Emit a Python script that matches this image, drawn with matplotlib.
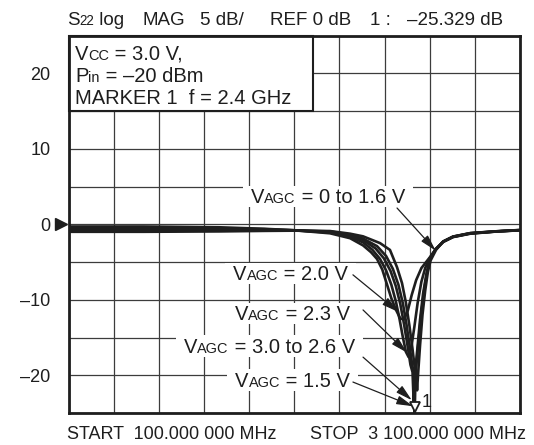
import matplotlib
matplotlib.use('Agg')
import matplotlib.pyplot as plt
from matplotlib.patches import Rectangle
from matplotlib.transforms import IdentityTransform, blended_transform_factory

plt.rcParams['font.family'] = ['Liberation Sans', 'DejaVu Sans']

INK = '#1e1e1e'
FS = 13          # header / axis text size (pt)
FS_NOTE = 14.5   # condition box and callout size (pt)
SMALL = 0.72     # size ratio for the small-cap style subscripts

# ── Analyzer settings ─────────────────────────────────────────────────────────
start_mhz = 100
stop_mhz = 3100
ref_db = 0
db_per_div = 5
marker_mhz = 2400
marker_db = -25.329
vcc_v = 3.0
pin_dbm = -20

y_label_values = [20, 10, 0, -10, -20]

# ── S22 traces (frequency in MHz, magnitude in dB) ───────────────────────────
f_2v0 = [100, 600, 1100, 1400, 1600, 1838, 1971, 2057, 2110, 2150, 2185, 2215,
         2245, 2275, 2305, 2330, 2355, 2380, 2410, 2445, 2500, 2540, 2590, 2655,
         2770, 2950, 3100]
db_2v0 = [-0.3, -0.3, -0.4, -0.6, -0.8, -1.2, -1.85, -2.8, -3.7, -4.6, -6.0, -7.9,
          -9.8, -11.3, -12.5, -12.6, -11.4, -9.4, -7.4, -5.8, -4.4, -3.3, -2.35, -1.7,
          -1.25, -0.95, -0.8]

f_2v3 = [100, 600, 1100, 1400, 1600, 1838, 1971, 2057, 2120, 2170, 2210, 2245,
         2275, 2300, 2322, 2342, 2360, 2378, 2398, 2420, 2445, 2470, 2500, 2540,
         2590, 2655, 2770, 2950, 3100]
db_2v3 = [-0.5, -0.5, -0.55, -0.65, -0.8, -1.1, -1.65, -2.4, -3.4, -4.6, -6.1, -8.0,
          -10.2, -12.6, -15.0, -16.9, -17.6, -16.3, -13.6, -10.4, -7.6, -5.8, -4.5, -3.3,
          -2.3, -1.68, -1.22, -0.95, -0.8]

f_3v0_2v6 = [100, 600, 1100, 1400, 1600, 1838, 1971, 2057, 2140, 2195, 2240, 2275,
             2305, 2330, 2352, 2372, 2386, 2394, 2402, 2418, 2436, 2456, 2478, 2500,
             2540, 2590, 2655, 2770, 2950, 3100]
db_3v0_2v6 = [-0.7, -0.7, -0.7, -0.72, -0.8, -1.0, -1.5, -2.1, -3.2, -4.5, -6.2, -8.2,
              -10.6, -13.3, -16.0, -18.6, -19.6, -23.8, -19.8, -16.5, -12.6, -9.2, -6.6, -4.7,
              -3.3, -2.3, -1.66, -1.2, -0.94, -0.78]

f_1v5 = [100, 600, 1100, 1400, 1600, 1838, 1971, 2057, 2150, 2210, 2255, 2292,
         2322, 2346, 2367, 2385, 2395, 2400, 2406, 2422, 2442, 2462, 2482, 2502,
         2540, 2590, 2655, 2770, 2950, 3100]
db_1v5 = [-0.85, -0.85, -0.83, -0.8, -0.82, -0.95, -1.38, -1.9, -2.9, -4.2, -5.9, -8.0,
          -10.5, -13.3, -16.2, -18.8, -19.7, marker_db, -19.9, -16.3, -12.2, -8.9, -6.4, -4.7,
          -3.3, -2.28, -1.64, -1.18, -0.93, -0.77]

f_0_1v6 = [100, 600, 1100, 1400, 1600, 1838, 1971, 2057, 2170, 2236, 2283, 2316,
           2342, 2365, 2385, 2400, 2410, 2416, 2424, 2436, 2452, 2470, 2488, 2506,
           2542, 2590, 2655, 2770, 2950, 3100]
db_0_1v6 = [-1.0, -1.0, -0.95, -0.88, -0.85, -0.9, -1.25, -1.6, -2.5, -3.4, -5.7, -7.8,
            -10.4, -13.4, -16.4, -18.9, -19.7, -22.0, -19.5, -16.0, -12.0, -8.8, -6.3, -4.8,
            -3.4, -2.28, -1.63, -1.17, -0.92, -0.76]

traces = [(f_2v0, db_2v0), (f_2v3, db_2v3), (f_3v0_2v6, db_3v0_2v6),
          (f_1v5, db_1v5), (f_0_1v6, db_0_1v6)]

# V_AGC callouts: text, right end of label (MHz, dB), arrow tail, arrow tip
agc_text = ['0 to 1.6 V', '2.0 V', '2.3 V', '3.0 to 2.6 V', '1.5 V']
agc_anchor = [(2336, 2.8), (1957, -7.4), (1970, -12.7), (2004, -17.0), (1970, -21.5)]
agc_tail = [(2283, 2.15), (1990, -6.7), (2057, -11.35), (2057, -17.6), (1990, -20.9)]
agc_tip = [(2540, -3.5), (2290, -11.6), (2349, -17.0), (2381, -23.3), (2389, -24.1)]


def fmt_mhz(v):
    whole = f'{int(v):,}'.replace(',', ' ')
    return f'{whole}.000 000 MHz'


def fmt_db(v):
    return f'{v:.3f}'.replace('-', '\u2013')


# ── Figure / axes ─────────────────────────────────────────────────────────────
fig = plt.figure(figsize=(5.34, 4.45), dpi=100, facecolor='white')
W, H = 534, 445
ax = fig.add_axes([68.5 / W, 1 - 413 / H, 451.5 / W, 377.5 / H])
ax.set_xlim(start_mhz, stop_mhz)
ax.set_ylim(ref_db - 5 * db_per_div, ref_db + 5 * db_per_div)

ax.set_xticks(range(start_mhz, stop_mhz + 1, (stop_mhz - start_mhz) // 10))
ax.set_xticklabels([])
yt = [ref_db + db_per_div * k for k in range(-5, 6)]
ax.set_yticks(yt)
ax.set_yticklabels([str(v).replace('-', '\u2013') if v in y_label_values else ''
                    for v in yt])
ax.tick_params(length=0, pad=13, labelsize=FS, labelcolor=INK)
ax.set_axisbelow(True)
ax.grid(True, color='#3c3c3c', linewidth=0.9)
for sp in ax.spines.values():
    sp.set_linewidth(2.0)
    sp.set_color(INK)

for f, db in traces:
    ax.plot(f, db, color=INK, linewidth=1.9, solid_joinstyle='round', zorder=2)

# reference level pointer
bt = blended_transform_factory(ax.transAxes, ax.transData)
ax.plot([-0.017], [ref_db], marker='>', markersize=8, color=INK,
        transform=bt, clip_on=False, zorder=5)

# marker 1 (open triangle sitting on the trace minimum, clipped at the bottom)
lo = ax.get_ylim()[0]
mk_y = max(marker_db, lo)
fig.canvas.draw()
mx, my = ax.transData.transform((marker_mhz, mk_y))
ax.plot([mx], [my + 6], marker='v', markersize=7.5, markerfacecolor='white',
        markeredgecolor=INK, markeredgewidth=1.3, transform=IdentityTransform(),
        clip_on=False, zorder=6)

renderer = fig.canvas.get_renderer()


def draw_runs(x, y, runs, ha='left', size=FS, knockout=False, padx=8):
    arts = []
    for s, small in runs:
        t = ax.text(0, 0, s, transform=IdentityTransform(),
                    fontsize=size * SMALL if small else size,
                    va='baseline', ha='left', color=INK, zorder=4, clip_on=False)
        arts.append(t)
    widths = [t.get_window_extent(renderer).width for t in arts]
    x0 = x - sum(widths) if ha == 'right' else x
    left = x0
    for t, w in zip(arts, widths):
        t.set_position((x0, y))
        x0 += w
    if knockout:
        cap = size * 100 / 72 * 0.72
        ax.add_patch(Rectangle((left - padx, y - 4), x0 - left + 2 * padx, cap + 7,
                               transform=IdentityTransform(), facecolor='white',
                               edgecolor='none', zorder=1.5, clip_on=False))
    return left, x0


# header line
top = H - 25
draw_runs(67, top, [('S', False), ('22', True), (' log', False)], size=13.5)
draw_runs(143, top, [('MAG', False)], size=13.5)
draw_runs(200, top, [(f'{db_per_div} dB/', False)], size=13.5)
draw_runs(270, top, [(f'REF {ref_db} dB', False)], size=13.5)
draw_runs(370, top, [('1 :', False)], size=13.5)
draw_runs(407, top, [(f'{fmt_db(marker_db)} dB', False)], size=13.5)

# sweep limits
draw_runs(67, 6, [('START  ' + fmt_mhz(start_mhz), False)])
draw_runs(310, 6, [('STOP  ' + fmt_mhz(stop_mhz), False)])

# conditions box
ax.add_patch(Rectangle((0, 1 - 75.5 / 377.5), 244.5 / 451.5, 75.5 / 377.5,
                       transform=ax.transAxes, facecolor='white', edgecolor=INK,
                       linewidth=1.5, zorder=1.6, clip_on=False))
draw_runs(75, H - 60, [('V', False), ('CC', True), (f' = {vcc_v:.1f} V,', False)],
          size=FS_NOTE)
draw_runs(75, H - 82, [('P', False), ('in', True),
                       (f' = {str(pin_dbm).replace("-", chr(0x2013))} dBm', False)],
          size=FS_NOTE)
draw_runs(75, H - 104, [(f'MARKER 1  f = {marker_mhz / 1000:.1f} GHz', False)],
          size=FS_NOTE)

# marker number
draw_runs(mx + 7, my + 6, [('1', False)])

# V_AGC callouts
for txt, anc, tail, tip in zip(agc_text, agc_anchor, agc_tail, agc_tip):
    px, py = ax.transData.transform(anc)
    draw_runs(px, py, [('V', False), ('AGC', True), (' = ' + txt, False)],
              ha='right', size=FS_NOTE, knockout=True)
    ax.annotate('', xy=tip, xytext=tail, xycoords='data', textcoords='data',
                arrowprops=dict(arrowstyle='-|>,head_length=0.9,head_width=0.24',
                                mutation_scale=11, color=INK, lw=0.9,
                                shrinkA=0, shrinkB=0),
                zorder=5, annotation_clip=False)

fig.savefig('out.png', dpi=100, facecolor='white')
